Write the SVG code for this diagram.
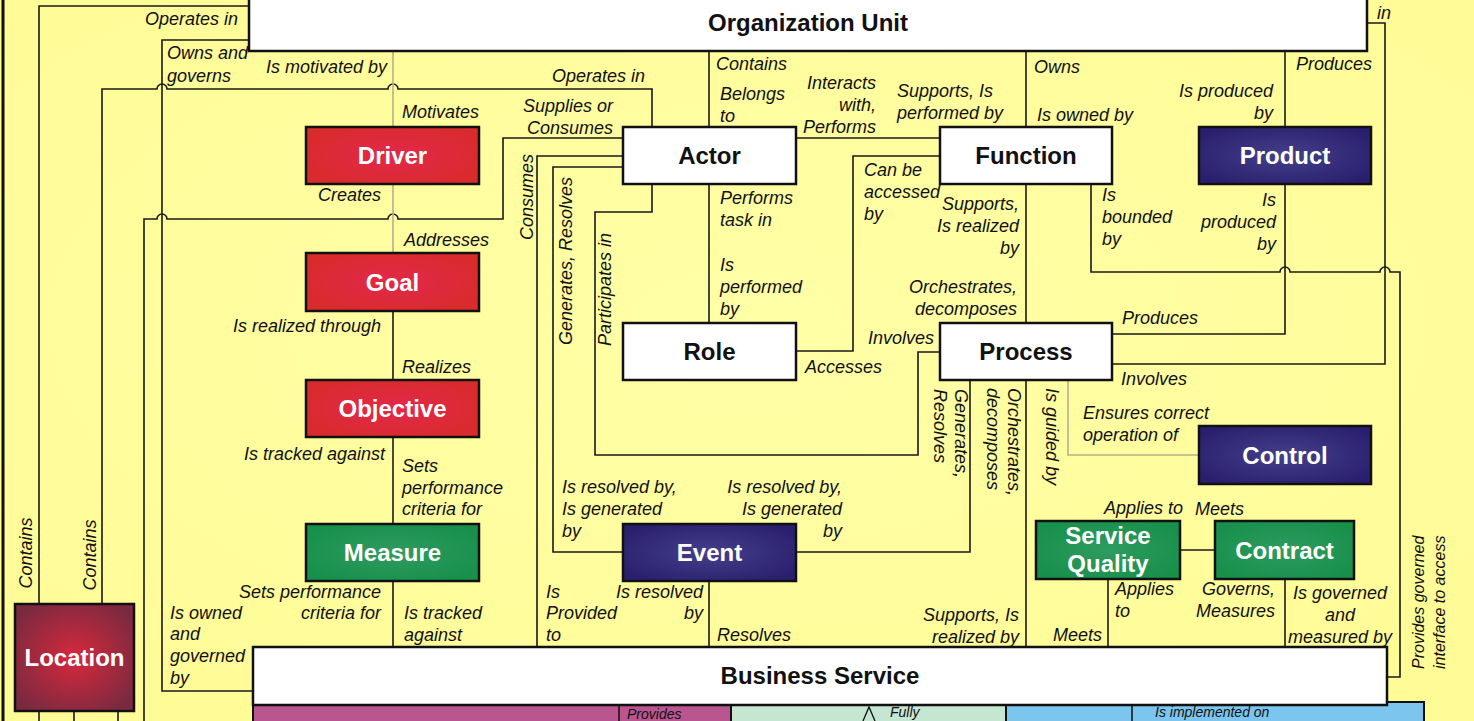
<svg xmlns="http://www.w3.org/2000/svg" width="1474" height="721" viewBox="0 0 1474 721">
<defs>
<radialGradient id="gRed" cx="0.5" cy="0.5" r="0.6"><stop offset="0" stop-color="#e3284b"/><stop offset="1" stop-color="#d82b2b"/></radialGradient>
<radialGradient id="gNavy" cx="0.5" cy="0.5" r="0.6"><stop offset="0" stop-color="#44408a"/><stop offset="1" stop-color="#2a1f6e"/></radialGradient>
<radialGradient id="gGreen" cx="0.5" cy="0.5" r="0.6"><stop offset="0" stop-color="#2f9b60"/><stop offset="1" stop-color="#17904b"/></radialGradient>
<radialGradient id="gLoc" cx="0.5" cy="0.5" r="0.6"><stop offset="0" stop-color="#d8283c"/><stop offset="1" stop-color="#7a2a40"/></radialGradient>
<radialGradient id="gBg" cx="0.5" cy="0.45" r="0.7"><stop offset="0" stop-color="#ffffa6"/><stop offset="1" stop-color="#fffb96"/></radialGradient>
</defs>
<style>
.box{stroke:#111;stroke-width:2.5}
.white{fill:#fff}
.red{fill:url(#gRed)}
.navy{fill:url(#gNavy)}
.green{fill:url(#gGreen)}
.t{font-family:"Liberation Sans",Arial,sans-serif;font-weight:bold;font-size:24px;text-anchor:middle}
.tw{fill:#fff}
.tb{fill:#111}
.c{fill:none;stroke:#1a1a1a;stroke-width:1.6}
.g{fill:none;stroke:#b3b18c;stroke-width:1.6}
.l{font-family:"Liberation Sans",Arial,sans-serif;font-style:italic;font-size:18px;fill:#111}
.s{font-family:"Liberation Sans",Arial,sans-serif;font-style:italic;font-size:14px;fill:#111}
.e{text-anchor:end}
.m{text-anchor:middle}
</style>
<rect x="0" y="0" width="1474" height="721" fill="url(#gBg)"/>
<line x1="3" y1="0" x2="3" y2="721" stroke="#111" stroke-width="3"/>

<g id="bottom-strips">
<rect x="253" y="705" width="478" height="30" fill="#b9558f" stroke="#111" stroke-width="2"/>
<rect x="731" y="705" width="275" height="30" fill="#c5e6d0" stroke="#111" stroke-width="2"/>
<rect x="1006" y="702" width="418" height="33" fill="#7cc5ef" stroke="#111" stroke-width="2"/>
<line x1="619" y1="705" x2="619" y2="721" stroke="#111" stroke-width="1.5"/>
<line x1="1132" y1="702" x2="1132" y2="721" stroke="#111" stroke-width="1.5"/>
<polyline points="863,721 869,707 875,721" fill="none" stroke="#111" stroke-width="1.3"/>
<text class="s" x="627" y="719">Provides</text>
<text class="s" x="890" y="717">Fully</text>
<text class="s" x="1155" y="717">Is implemented on</text>
</g>

<g id="connectors">
<path class="c" d="M249,6 H39 V604"/>
<path class="c" d="M652,127 V89 H398 a5,5 0 0 0 -10,0 H167 a5,5 0 0 0 -10,0 H102 V604"/>
<path class="c" d="M249,40 H162 V691 H253"/>
<path class="c" d="M623,138 H503 V219 H398 a5,5 0 0 0 -10,0 H167 a5,5 0 0 0 -10,0 H144 V721"/>
<path class="c" d="M39,711 V721 M74,711 V721 M118,711 V721"/>
<path class="g" d="M393,51 V127"/>
<path class="g" d="M393,184 V253"/>
<path class="c" d="M393,311 V380"/>
<path class="c" d="M393,437 V524"/>
<path class="c" d="M393,581 V647"/>
<path class="c" d="M709,51 V127"/>
<path class="c" d="M796,138 H940"/>
<path class="c" d="M709,184 V323"/>
<path class="c" d="M940,156 H853 V351 H796"/>
<path class="c" d="M1026,51 V127"/>
<path class="c" d="M1285,51 V127"/>
<path class="c" d="M1026,184 V323"/>
<path class="c" d="M940,352 H918 V455 H595 V212 H652 V184"/>
<path class="c" d="M970,380 V552 H796"/>
<path class="g" d="M1068,380 V455 H1199"/>
<path class="c" d="M1026,380 V647"/>
<path class="c" d="M1285,184 V334 H1112"/>
<path class="c" d="M1367,23 H1385 V364 H1112"/>
<path class="c" d="M1091,184 V272 H1280 a5,5 0 0 1 10,0 H1380 a5,5 0 0 1 10,0 H1400 V677 H1387"/>
<path class="c" d="M623,552 H553 V167 H623"/>
<path class="c" d="M623,156 H537 V647"/>
<path class="c" d="M709,581 V647"/>
<path class="c" d="M1180,550 H1215"/>
<path class="c" d="M1108,579 V647"/>
<path class="c" d="M1285,579 V647"/>

<g id="labels">
<text class="l e" x="238" y="25">Operates in</text>
<text class="l m" transform="translate(32,553) rotate(-90)">Contains</text>
<text class="l e" x="645" y="82">Operates in</text>
<text class="l m" transform="translate(96,555) rotate(-90)">Contains</text>
<text class="l" x="167" y="59">Owns and</text>
<text class="l" x="167" y="82">governs</text>
<text class="l" x="170" y="619">Is owned</text>
<text class="l" x="170" y="640">and</text>
<text class="l" x="170" y="662">governed</text>
<text class="l" x="170" y="684">by</text>
<text class="l e" x="613" y="112">Supplies or</text>
<text class="l e" x="613" y="134">Consumes</text>
<text class="l e" x="387" y="73">Is motivated by</text>
<text class="l" x="402" y="118">Motivates</text>
<text class="l e" x="381" y="201">Creates</text>
<text class="l" x="404" y="246">Addresses</text>
<text class="l e" x="381" y="332">Is realized through</text>
<text class="l" x="402" y="373">Realizes</text>
<text class="l e" x="385" y="460">Is tracked against</text>
<text class="l" x="402" y="472">Sets</text>
<text class="l" x="402" y="494">performance</text>
<text class="l" x="402" y="515">criteria for</text>
<text class="l e" x="381" y="598">Sets performance</text>
<text class="l e" x="381" y="619">criteria for</text>
<text class="l" x="404" y="619">Is tracked</text>
<text class="l" x="404" y="641">against</text>
<text class="l" x="716" y="70">Contains</text>
<text class="l" x="720" y="100">Belongs</text>
<text class="l" x="720" y="122">to</text>
<text class="l e" x="876" y="89">Interacts</text>
<text class="l e" x="876" y="111">with,</text>
<text class="l e" x="876" y="133">Performs</text>
<text class="l" x="897" y="97">Supports, Is</text>
<text class="l" x="897" y="119">performed by</text>
<text class="l" x="720" y="204">Performs</text>
<text class="l" x="720" y="226">task in</text>
<text class="l" x="720" y="271">Is</text>
<text class="l" x="720" y="293">performed</text>
<text class="l" x="720" y="315">by</text>
<text class="l" x="864" y="176">Can be</text>
<text class="l" x="864" y="198">accessed</text>
<text class="l" x="864" y="220">by</text>
<text class="l" x="805" y="373">Accesses</text>
<text class="l" x="1034" y="73">Owns</text>
<text class="l" x="1037" y="121">Is owned by</text>
<text class="l" x="1296" y="70">Produces</text>
<text class="l e" x="1273" y="97">Is produced</text>
<text class="l e" x="1273" y="119">by</text>
<text class="l e" x="1019" y="210">Supports,</text>
<text class="l e" x="1019" y="232">Is realized</text>
<text class="l e" x="1019" y="254">by</text>
<text class="l e" x="1017" y="293">Orchestrates,</text>
<text class="l e" x="1017" y="315">decomposes</text>
<text class="l e" x="934" y="344">Involves</text>
<text class="l" transform="translate(611,346) rotate(-90)">Participates in</text>
<text class="l" transform="translate(955,389) rotate(90)">Generates,</text>
<text class="l" transform="translate(934,389) rotate(90)">Resolves</text>
<text class="l" transform="translate(1008,388) rotate(90)">Orchestrates,</text>
<text class="l" transform="translate(987,388) rotate(90)">decomposes</text>
<text class="l" transform="translate(1046,388) rotate(90)">Is guided by</text>
<text class="l e" x="842" y="493">Is resolved by,</text>
<text class="l e" x="842" y="515">Is generated</text>
<text class="l e" x="842" y="537">by</text>
<text class="l" x="1083" y="419">Ensures correct</text>
<text class="l" x="1083" y="441">operation of</text>
<text class="l e" x="1019" y="621">Supports, Is</text>
<text class="l e" x="1019" y="643">realized by</text>
<text class="l e" x="1276" y="206">Is</text>
<text class="l e" x="1276" y="228">produced</text>
<text class="l e" x="1276" y="250">by</text>
<text class="l" x="1122" y="324">Produces</text>
<text class="l" x="1377" y="19">in</text>
<text class="l" x="1121" y="385">Involves</text>
<text class="l" x="1102" y="201">Is</text>
<text class="l" x="1102" y="223">bounded</text>
<text class="l" x="1102" y="245">by</text>
<text class="l" style="font-size:16px" transform="translate(1424,669) rotate(-90)">Provides governed</text>
<text class="l" style="font-size:16px" transform="translate(1445,669) rotate(-90)">interface to access</text>
<text class="l" transform="translate(572,345) rotate(-90)">Generates, Resolves</text>
<text class="l" x="562" y="493">Is resolved by,</text>
<text class="l" x="562" y="515">Is generated</text>
<text class="l" x="562" y="537">by</text>
<text class="l" transform="translate(533,240) rotate(-90)">Consumes</text>
<text class="l" x="546" y="598">Is</text>
<text class="l" x="546" y="619">Provided</text>
<text class="l" x="546" y="641">to</text>
<text class="l e" x="703" y="598">Is resolved</text>
<text class="l e" x="703" y="619">by</text>
<text class="l" x="717" y="641">Resolves</text>
<text class="l e" x="1183" y="514">Applies to</text>
<text class="l" x="1195" y="515">Meets</text>
<text class="l" x="1115" y="595">Applies</text>
<text class="l" x="1115" y="617">to</text>
<text class="l e" x="1102" y="641">Meets</text>
<text class="l e" x="1275" y="595">Governs,</text>
<text class="l e" x="1275" y="617">Measures</text>
<text class="l m" x="1340" y="599">Is governed</text>
<text class="l m" x="1340" y="621">and</text>
<text class="l m" x="1340" y="643">measured by</text>
</g>
</g>

<g id="org-unit"><rect class="box white" x="249" y="-5" width="1118" height="56"/><text class="t tb" x="808" y="31">Organization Unit</text></g>
<g id="business-service"><rect class="box white" x="253" y="647" width="1134" height="58"/><text class="t tb" x="820" y="684">Business Service</text></g>
<g id="driver"><rect class="box red" x="306" y="127" width="173" height="57"/><text class="t tw" x="392.5" y="164">Driver</text></g>
<g id="goal"><rect class="box red" x="306" y="253" width="173" height="58"/><text class="t tw" x="392.5" y="291">Goal</text></g>
<g id="objective"><rect class="box red" x="306" y="380" width="173" height="57"/><text class="t tw" x="392.5" y="417">Objective</text></g>
<g id="measure"><rect class="box green" x="306" y="524" width="173" height="57"/><text class="t tw" x="392.5" y="561">Measure</text></g>
<g id="actor"><rect class="box white" x="623" y="127" width="173" height="57"/><text class="t tb" x="709.5" y="164">Actor</text></g>
<g id="function"><rect class="box white" x="940" y="127" width="172" height="57"/><text class="t tb" x="1026" y="164">Function</text></g>
<g id="product"><rect class="box navy" x="1199" y="127" width="172" height="57"/><text class="t tw" x="1285" y="164">Product</text></g>
<g id="role"><rect class="box white" x="623" y="323" width="173" height="57"/><text class="t tb" x="709.5" y="360">Role</text></g>
<g id="process"><rect class="box white" x="940" y="323" width="172" height="57"/><text class="t tb" x="1026" y="360">Process</text></g>
<g id="control"><rect class="box navy" x="1199" y="426" width="172" height="58"/><text class="t tw" x="1285" y="464">Control</text></g>
<g id="event"><rect class="box navy" x="623" y="524" width="173" height="57"/><text class="t tw" x="709.5" y="561">Event</text></g>
<g id="service-quality"><rect class="box green" x="1036" y="521" width="144" height="58"/><text class="t tw" x="1108" y="544">Service</text><text class="t tw" x="1108" y="572">Quality</text></g>
<g id="contract"><rect class="box green" x="1215" y="521" width="139" height="58"/><text class="t tw" x="1284.5" y="559">Contract</text></g>
<g id="location"><rect class="box" fill="url(#gLoc)" x="15" y="604" width="119" height="107"/><text class="t tw" x="74.5" y="666">Location</text></g>
</svg>
